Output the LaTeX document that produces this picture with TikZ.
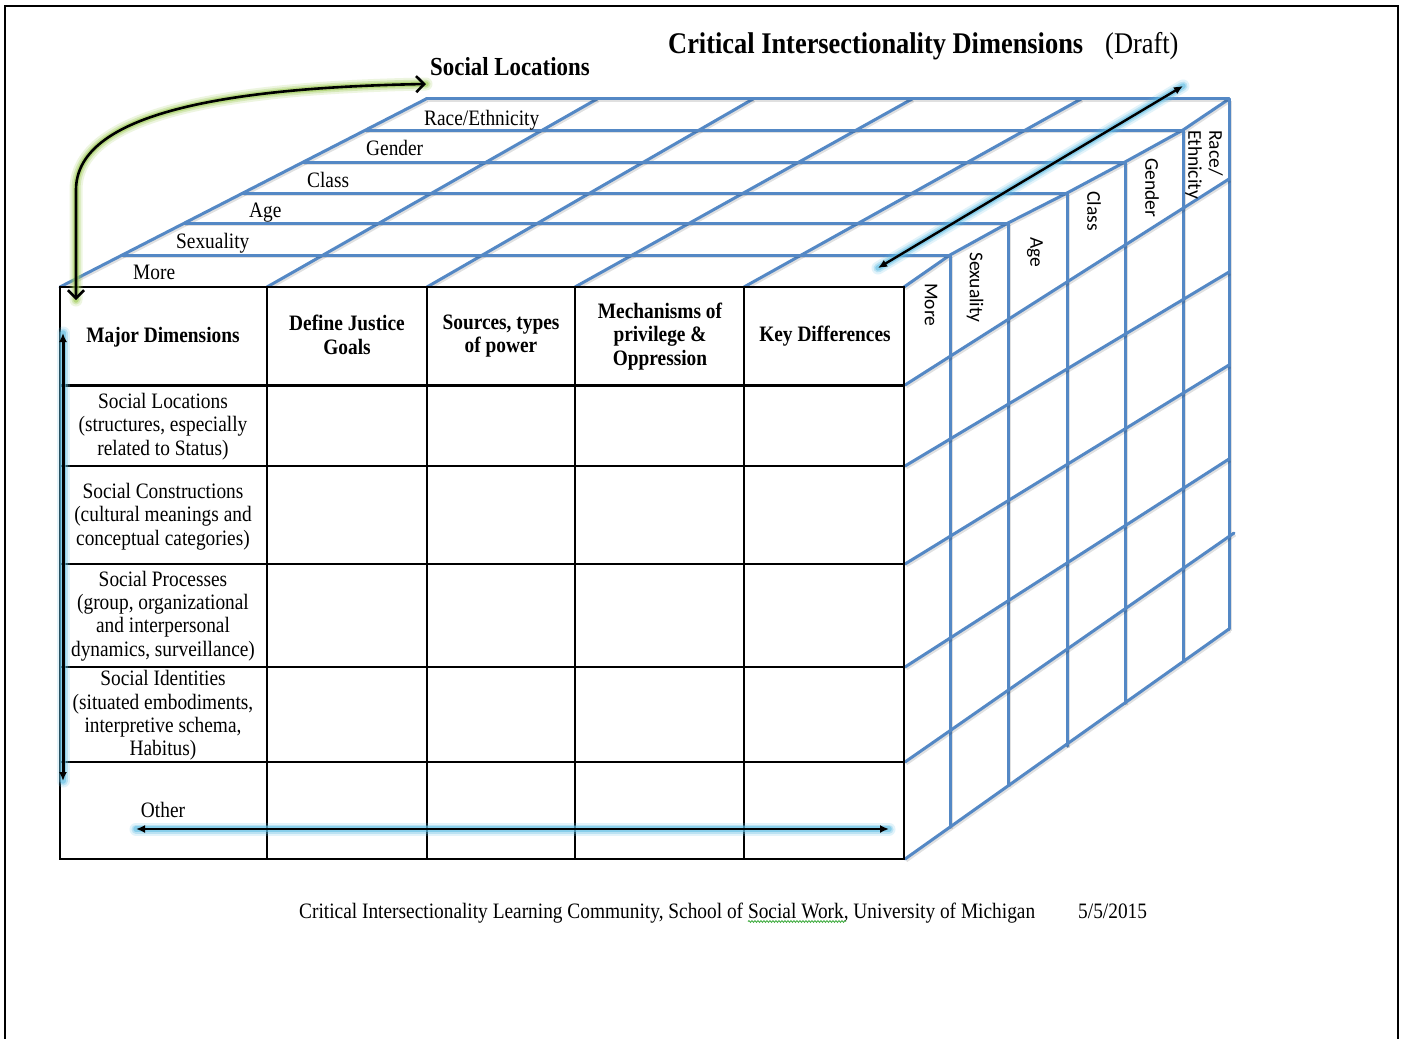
\documentclass[tikz,border=0pt]{standalone}
\usepackage{fontspec}
\setmainfont{Liberation Serif}[FakeStretch=0.88]
\newfontfamily\sidefont{Carlito}
\usetikzlibrary{arrows.meta,decorations.pathmorphing}

\definecolor{gridblue}{RGB}{84,136,197}
\definecolor{glowgreen}{RGB}{160,205,85}
\definecolor{glowblue}{RGB}{95,190,228}
\definecolor{squiggle}{RGB}{60,170,60}

\begin{document}
\begin{tikzpicture}[x=1pt,y=-1pt,
  grid/.style={draw=gridblue, line width=3pt, line cap=round, line join=round,
               preaction={draw=black, opacity=.12, line width=3pt, transform canvas={shift={(1.3,1.8)}}}},
  tab/.style={draw=black, line width=1.3pt},
  body/.style={font=\fontsize{22}{23.3}\selectfont, inner sep=0pt, align=center},
  head/.style={font=\bfseries\fontsize{22}{23.3}\selectfont, inner sep=0pt, align=center},
  toplab/.style={font=\fontsize{22}{23}\selectfont, inner sep=0pt, anchor=base west},
  side/.style={font=\sidefont\fontsize{19.5}{21}\selectfont, inner sep=0pt, rotate=-90, anchor=west},
  glowG/.style={preaction={draw=glowgreen, line width=13pt, opacity=.18, line cap=round, arrows=-},
                preaction={draw=glowgreen, line width=9pt, opacity=.3, line cap=round, arrows=-},
                preaction={draw=glowgreen, line width=5.5pt, opacity=.55, line cap=round, arrows=-}},
  glowB/.style={preaction={draw=glowblue, line width=13pt, opacity=.18, line cap=round, arrows=-},
                preaction={draw=glowblue, line width=9pt, opacity=.3, line cap=round, arrows=-},
                preaction={draw=glowblue, line width=5.5pt, opacity=.55, line cap=round, arrows=-}},
  barb/.style={line width=2.6pt, {Straight Barb[length=8pt,width=16pt]}-{Straight Barb[length=8pt,width=16pt]}},
  dbl/.style={line width=2.4pt, {Latex[length=9pt,width=8pt]}-{Latex[length=9pt,width=8pt]}},
]
\useasboundingbox (0,0) rectangle (1404,1038);
\fill[white] (0,0) rectangle (1404,1038);

% page frame
\draw[line width=2pt] (5,1045) -- (5,6) -- (1398,6) -- (1398,1045);

% ---------- top face of the cube ----------
\draw[grid] (60,287) -- (426,99);
\draw[grid] (267,287) -- (597,99);
\draw[grid] (427,287) -- (753,99);
\draw[grid] (575,287) -- (912,99);
\draw[grid] (744,287) -- (1081,99);
\draw[grid] (904,287) -- (950,255) -- (1008,223) -- (1067,193) -- (1125,162) -- (1183,130) -- (1229,99);
\draw[grid] (122,255) -- (950,255);
\draw[grid] (184,223) -- (1008,223);
\draw[grid] (243,193) -- (1067,193);
\draw[grid] (303,162) -- (1125,162);
\draw[grid] (365,130) -- (1183,130);
\draw[grid] (426,99) -- (1229,99);

% ---------- right face of the cube ----------
\draw[grid] (950,255) -- (950,827);
\draw[grid] (1008,223) -- (1008,785);
\draw[grid] (1067,193) -- (1067,746);
\draw[grid] (1125,162) -- (1125,703);
\draw[grid] (1183,130) -- (1183,661);
\draw[grid] (1229,99) -- (1229,629);
\draw[grid] (905,385) -- (1229,179);
\draw[grid] (905,466) -- (1229,272);
\draw[grid] (905,564) -- (1229,365);
\draw[grid] (905,667) -- (1229,459);
\draw[grid] (905,762) -- (1234,533);
\draw[grid] (905,859) -- (1229,629);

% ---------- front face: the table ----------
\fill[white] (60,287) rectangle (904,859);
\draw[tab] (60,287) rectangle (904,859);
\foreach \x in {267,427,575,744} \draw[tab] (\x,287) -- (\x,859);
\foreach \y in {466,564,667,762} \draw[tab] (60,\y) -- (904,\y);
\draw[line width=3pt] (60,385) -- (904,385);

% header row
\node[head, anchor=base] (hMajor) at (163,342.7) {Major Dimensions};
\node[head] (hDefine) at (347,335) {Define Justice\\Goals};
\node[head] (hSources) at (501,336) {Sources, types\\of power};
\node[head] (hMech) at (660,336.5) {Mechanisms of\\privilege \&\\Oppression};
\node[head, anchor=base] (hKey) at (825,341.7) {Key Differences};

% row labels
\node[body] (rLoc) at (163,426.5) {Social Locations\\(structures, especially\\related to Status)};
\node[body] (rCon) at (163,516.5) {Social Constructions\\(cultural meanings and\\conceptual categories)};
\node[body] (rPro) at (163,616) {Social Processes\\(group, organizational\\and interpersonal\\dynamics, surveillance)};
\node[body] (rIde) at (163,715.5) {Social Identities\\(situated embodiments,\\interpretive schema,\\Habitus)};
\node[body, anchor=base] (rOth) at (163,817) {Other};

% top face labels
\node[toplab] (tRace) at (424,125) {Race/Ethnicity};
\node[toplab] (tGender) at (366,155) {Gender};
\node[toplab] (tClass) at (307,187) {Class};
\node[toplab] (tAge) at (249,217) {Age};
\node[toplab] (tSex) at (176,248) {Sexuality};
\node[toplab] (tMore) at (133,279) {More};

% right face labels
\node[side] (sMore) at (931,283) {More};
\node[side] (sSex) at (975,252) {Sexuality};
\node[side] (sAge) at (1035,237) {Age};
\node[side] (sClass) at (1094,191) {Class};
\node[side] (sGender) at (1152,158) {Gender};
\node[side, align=left] (sRace) at (1204,130) {Race/\\Ethnicity};

% titles
\node[font=\bfseries\fontsize{30}{32}\selectfont, inner sep=0pt, anchor=base west] (title) at (668,54) {Critical Intersectionality Dimensions};
\node[font=\fontsize{30}{32}\selectfont, inner sep=0pt, anchor=base west] (draft) at (1105,54) {(Draft)};
\node[font=\bfseries\fontsize{26}{28}\selectfont, inner sep=0pt, anchor=base west] (locTitle) at (430,76) {Social Locations};

% footer
\node[font=\fontsize{22}{24}\selectfont, inner sep=0pt, anchor=base west] (foot) at (299,918) {Critical Intersectionality Learning Community, School of Social Work, University of Michigan};
\node[font=\fontsize{22}{24}\selectfont, inner sep=0pt, anchor=base west] (date) at (1078,918) {5/5/2015};
\coordinate (sqA) at (748,921.5);
\coordinate (sqB) at (846,921.5);
\draw[squiggle, line width=0.8pt, decorate, decoration={snake, amplitude=0.9pt, segment length=3pt}] (sqA) -- (sqB);

% ---------- arrows ----------
\coordinate (gDown) at (76,300);
\coordinate (gRight) at (426,84);
\draw[glowG, barb] (gDown) -- (76,190) .. controls (76,120) and (200,88) .. (gRight);

\coordinate (dFront) at (878,268);
\coordinate (dBack) at (1183,86);
\draw[glowB, dbl] (dFront) -- (dBack);

\coordinate (vTop) at (63,333);
\coordinate (vBot) at (63,781);
\draw[glowB, dbl, line width=3pt] (vTop) -- (vBot);

\coordinate (hLeft) at (136,829);
\coordinate (hRight) at (889,829);
\draw[glowB, dbl, line width=2.8pt] (hLeft) -- (hRight);
\end{tikzpicture}
\end{document}
